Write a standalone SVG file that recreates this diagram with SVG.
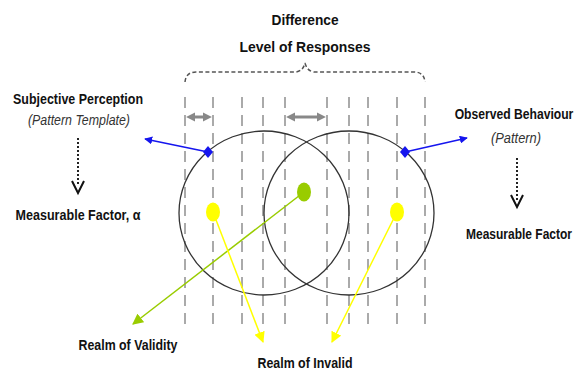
<svg xmlns="http://www.w3.org/2000/svg" width="577" height="372" viewBox="0 0 577 372">
<style>
.t{font-family:"Liberation Sans",Arial,sans-serif;font-weight:bold;font-size:15px;fill:#111;}
.it{font-family:"Liberation Sans",Arial,sans-serif;font-style:italic;font-size:14px;fill:#333;}
.vd{stroke:#aaa;stroke-width:2;stroke-dasharray:11 7;fill:none;}
.circ{fill:none;stroke:#333;stroke-width:1.3;}
.dot{stroke:#222;stroke-width:2;stroke-dasharray:2 2;fill:none;}
.chev{stroke:#111;stroke-width:2;fill:none;}
</style>
<defs>
<marker id="ga" viewBox="0 0 10 10" refX="9" refY="5" markerWidth="9" markerHeight="10" orient="auto-start-reverse" markerUnits="userSpaceOnUse"><path d="M0,0L10,5L0,10z" fill="#888"/></marker>
<marker id="ba" viewBox="0 0 10 10" refX="9" refY="5" markerWidth="8" markerHeight="8" orient="auto" markerUnits="userSpaceOnUse"><path d="M0,0L10,5L0,10z" fill="#1515ee"/></marker>
<marker id="gr" viewBox="0 0 10 10" refX="9" refY="5" markerWidth="11" markerHeight="11" orient="auto" markerUnits="userSpaceOnUse"><path d="M0,0L10,5L0,10z" fill="#99cc00"/></marker>
<marker id="ye" viewBox="0 0 10 10" refX="9" refY="5" markerWidth="11" markerHeight="11" orient="auto" markerUnits="userSpaceOnUse"><path d="M0,0L10,5L0,10z" fill="#ffff00"/></marker>
</defs>

<g id="title">
<text class="t" x="305" y="25" text-anchor="middle" font-size="18" textLength="67" lengthAdjust="spacingAndGlyphs">Difference</text>
<text class="t" x="305" y="52" text-anchor="middle" font-size="18" textLength="131" lengthAdjust="spacingAndGlyphs">Level of Responses</text>
</g>

<g id="grid">
<line class="vd" x1="185" y1="97" x2="185" y2="326"/>
<line class="vd" x1="213" y1="97" x2="213" y2="326"/>
<line class="vd" x1="242" y1="97" x2="242" y2="326"/>
<line class="vd" x1="263" y1="97" x2="263" y2="326"/>
<line class="vd" x1="285" y1="97" x2="285" y2="326"/>
<line class="vd" x1="327" y1="97" x2="327" y2="326"/>
<line class="vd" x1="349" y1="97" x2="349" y2="326"/>
<line class="vd" x1="368" y1="97" x2="368" y2="326"/>
<line class="vd" x1="397" y1="97" x2="397" y2="326"/>
<line class="vd" x1="425" y1="97" x2="425" y2="326"/>
</g>

<g id="brace">
<path d="M185,82 Q186,72 196,72 L296,72 Q303,71 305,63 Q307,71 314,72 L414,72 Q424,72 425,82" fill="none" stroke="#555" stroke-width="1.5" stroke-dasharray="4 2.5"/>
</g>

<g id="circle-left"><ellipse class="circ" cx="264" cy="213" rx="85" ry="82"/></g>
<g id="circle-right"><ellipse class="circ" cx="349" cy="213" rx="85" ry="82"/></g>

<g id="connectors">
<line x1="194" y1="117" x2="204" y2="117" stroke="#888" stroke-width="3"/>
<line x1="187" y1="117" x2="211" y2="117" stroke="none" marker-start="url(#ga)" marker-end="url(#ga)"/>
<line x1="294" y1="117" x2="318" y2="117" stroke="#888" stroke-width="3"/>
<line x1="287" y1="117" x2="325" y2="117" stroke="none" marker-start="url(#ga)" marker-end="url(#ga)"/>
<line x1="208" y1="152" x2="145" y2="139" stroke="#1515ee" stroke-width="1.5" marker-end="url(#ba)"/>
<line x1="405" y1="152" x2="467" y2="138" stroke="#1515ee" stroke-width="1.5" marker-end="url(#ba)"/>
<line x1="304" y1="192" x2="133" y2="324" stroke="#99cc00" stroke-width="1.5" marker-end="url(#gr)"/>
<line x1="213" y1="212" x2="263" y2="342" stroke="#ffff00" stroke-width="1.5" marker-end="url(#ye)"/>
<line x1="397" y1="212" x2="332" y2="342" stroke="#ffff00" stroke-width="1.5" marker-end="url(#ye)"/>
<line class="dot" x1="78" y1="138" x2="78" y2="186"/>
<path class="chev" d="M72,181 L78,193 L84,181"/>
<line class="dot" x1="517" y1="158" x2="517" y2="200"/>
<path class="chev" d="M511,195 L517,207 L523,195"/>
</g>

<g id="diamond-left"><path d="M208,146 L213,152 L208,158 L203,152z" fill="#1515ee"/></g>
<g id="diamond-right"><path d="M405,146 L410,152 L405,158 L400,152z" fill="#1515ee"/></g>
<g id="dot-green"><ellipse cx="304" cy="192" rx="7" ry="9.5" fill="#99cc00"/></g>
<g id="dot-yellow-left"><ellipse cx="213" cy="212" rx="7" ry="9.5" fill="#ffff00"/></g>
<g id="dot-yellow-right"><ellipse cx="397" cy="212" rx="7" ry="9.5" fill="#ffff00"/></g>

<g id="subjective">
<text class="t" x="78" y="104" text-anchor="middle" textLength="130" lengthAdjust="spacingAndGlyphs">Subjective Perception</text>
<text class="it" x="79" y="125" text-anchor="middle" textLength="102" lengthAdjust="spacingAndGlyphs">(Pattern Template)</text>
</g>
<g id="measurable-left"><text class="t" x="78" y="220" text-anchor="middle" textLength="125" lengthAdjust="spacingAndGlyphs">Measurable Factor, α</text></g>
<g id="observed">
<text class="t" transform="translate(514 119) scale(0.81 1)" x="0" y="0" text-anchor="middle">Observed Behaviour</text>
<text class="it" x="516" y="143" text-anchor="middle" textLength="50" lengthAdjust="spacingAndGlyphs">(Pattern)</text>
</g>
<g id="measurable-right"><text class="t" transform="translate(519 239) scale(0.8 1)" x="0" y="0" text-anchor="middle">Measurable Factor</text></g>
<g id="validity"><text class="t" x="128" y="350" text-anchor="middle" textLength="99" lengthAdjust="spacingAndGlyphs">Realm of Validity</text></g>
<g id="invalid"><text class="t" x="305" y="368" text-anchor="middle" textLength="95" lengthAdjust="spacingAndGlyphs">Realm of Invalid</text></g>
</svg>
